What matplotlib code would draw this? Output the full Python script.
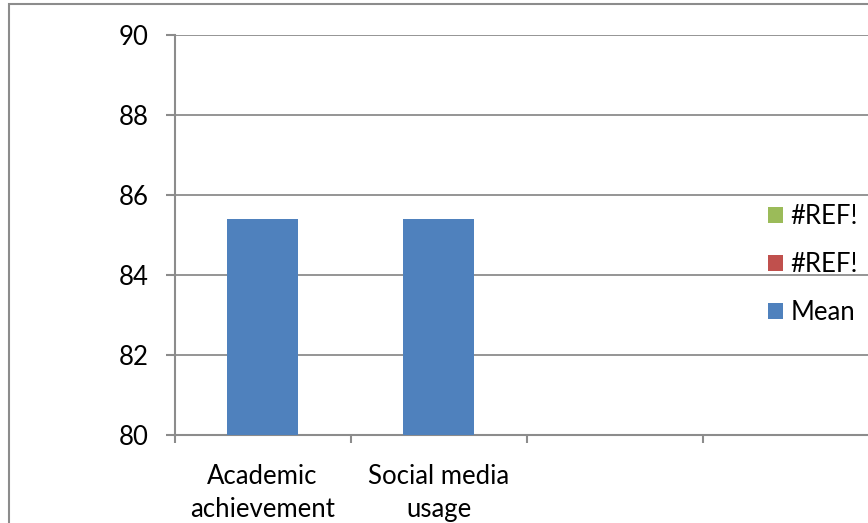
import numpy as np
import matplotlib
matplotlib.use("Agg")
import matplotlib.pyplot as plt
from matplotlib.patches import Rectangle

plt.rcParams['font.family'] = ['Lato', 'DejaVu Sans']

# Category labels (two empty slots on the axis)
categories = ['Academic\nachievement', 'Social media\nusage', '', '']
mean_values = [85.4, 85.4, np.nan, np.nan]
ref_red_values = [np.nan, np.nan, np.nan, np.nan]
ref_green_values = [np.nan, np.nan, np.nan, np.nan]
series_names = ['Mean', '#REF!', '#REF!']
y_ticks = [80, 82, 84, 86, 88, 90]

W, H = 868, 523
fig = plt.figure(figsize=(W / 100, H / 100), dpi=100)
fig.patch.set_facecolor('white')

# Plot area: runs slightly past the right edge of the figure
left_px, right_px, top_px, bottom_px = 174.5, 879, 35, 435
ax = fig.add_axes([left_px / W, 1 - bottom_px / H,
                   (right_px - left_px) / W, (bottom_px - top_px) / H])

grid_col = '#8c8c8c'
fs = 18.5

x = np.arange(len(categories))
bw = 0.40
b_mean = ax.bar(x, mean_values, bw, color='#4F81BD', linewidth=0, zorder=3)
b_red = ax.bar(x, ref_red_values, bw, bottom=mean_values, color='#C0504D',
               linewidth=0, zorder=3)
b_green = ax.bar(x, ref_green_values, bw, bottom=mean_values, color='#9BBB59',
                 linewidth=0, zorder=3)

ax.set_xlim(-0.5, len(categories) - 0.5)
ax.set_ylim(y_ticks[0], y_ticks[-1])
ax.set_yticks(y_ticks)
ax.set_yticklabels([str(t) for t in y_ticks])

# Category tick marks sit between the slots
ax.set_xticks(np.arange(len(categories) + 1) - 0.5)
ax.set_xticklabels([])
ax.set_xticks(x, minor=True)
ax.set_xticklabels(categories, minor=True, fontsize=fs, linespacing=1.38)
ax.tick_params(axis='x', which='minor', length=0, pad=21)
ax.tick_params(axis='x', which='major', length=6, width=1.5, color=grid_col,
               direction='out')
ax.tick_params(axis='y', length=6.5, width=1.5, color=grid_col,
               direction='out', pad=12, labelsize=fs)

ax.yaxis.grid(True, color=grid_col, linewidth=1.3, zorder=0)
ax.set_axisbelow(True)
for s in ['top', 'right']:
    ax.spines[s].set_visible(False)
for s in ['left', 'bottom']:
    ax.spines[s].set_color(grid_col)
    ax.spines[s].set_linewidth(1.5)

leg = ax.legend([b_green, b_red, b_mean],
                [series_names[2], series_names[1], series_names[0]],
                loc='center left', bbox_to_anchor=(768 / W, 1 - 264.5 / H),
                bbox_transform=fig.transFigure, frameon=False, fontsize=fs,
                handlelength=0.58, handleheight=0.58, handletextpad=0.3,
                labelspacing=0.88, borderpad=0, borderaxespad=0)

# Chart area border
fig.patches.append(Rectangle((9 / W, -0.2), 1.5, 1.2 - 4 / H,
                             transform=fig.transFigure, fill=False,
                             edgecolor='#8c8c8c', linewidth=1.5))

fig.savefig('out.png', dpi=100)
